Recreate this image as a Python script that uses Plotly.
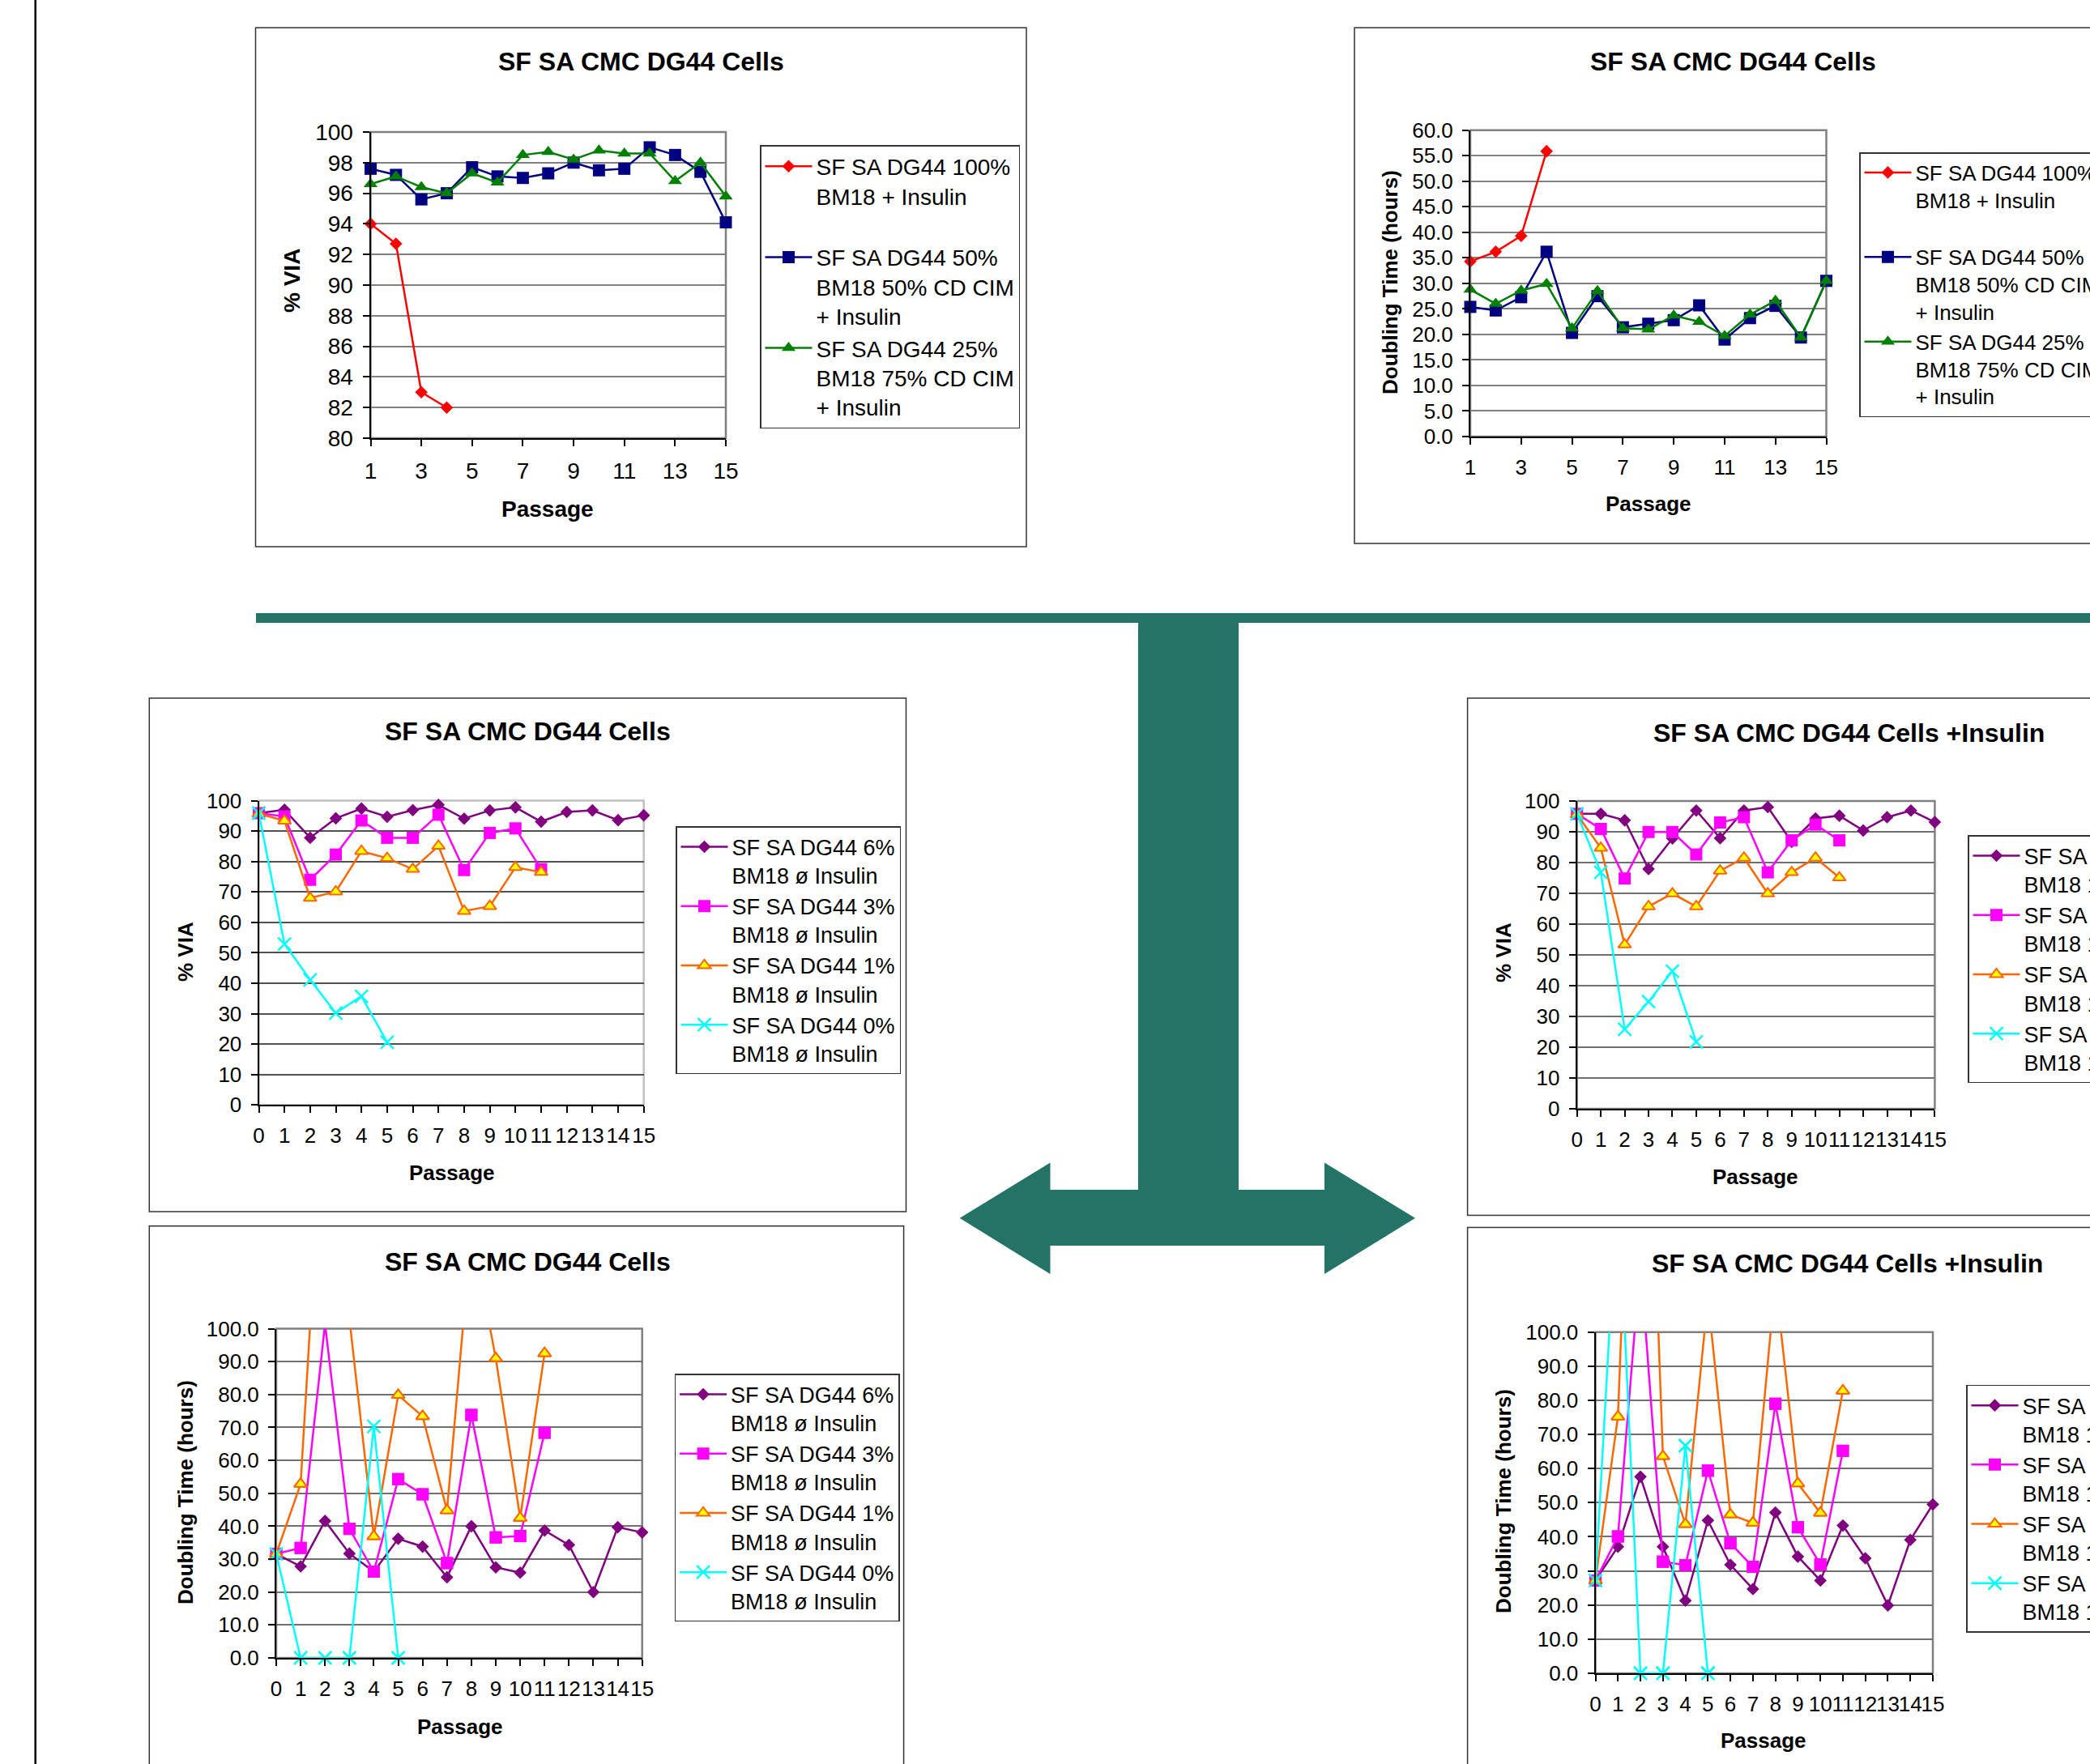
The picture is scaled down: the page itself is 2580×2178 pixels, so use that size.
import plotly.graph_objects as go

W, H = 2580, 2178
FONT = "Arial, Liberation Sans, sans-serif"

# ---------------- data ----------------
# Top row: passages 1-15, BM18 blends with insulin
passage_top = list(range(1, 16))
via_bm18_100 = [94.0, 92.7, 83.0, 82.0]
via_bm18_50 = [97.6, 97.2, 95.6, 96.0, 97.7, 97.1, 97.0, 97.3, 98.0, 97.5, 97.6, 99.0, 98.5, 97.4, 94.1]
via_bm18_25 = [96.6, 97.1, 96.4, 96.0, 97.3, 96.7, 98.5, 98.7, 98.2, 98.8, 98.6, 98.6, 96.8, 98.0, 95.8]

dt_bm18_100 = [34.3, 36.2, 39.3, 55.9]
dt_bm18_50 = [25.4, 24.7, 27.3, 36.2, 20.3, 27.5, 21.4, 22.1, 22.8, 25.7, 19.0, 23.2, 25.6, 19.4, 30.5]
dt_bm18_25 = [28.8, 26.0, 28.6, 29.9, 21.2, 28.5, 21.2, 21.0, 23.7, 22.5, 19.7, 23.9, 26.6, 19.4, 30.5]

# Lower rows: passages 0-15, BM18 percentage series
passage_low = list(range(0, 16))

via_no_ins_6 = [95.9, 97.0, 87.8, 94.2, 97.4, 94.7, 96.9, 98.6, 94.1, 96.8, 97.8, 93.1, 96.3, 96.8, 93.6, 95.2]
via_no_ins_3 = [95.9, 94.8, 74.0, 82.3, 93.5, 87.8, 87.8, 95.4, 77.2, 89.4, 90.9, 77.5]
via_no_ins_1 = [95.7, 93.4, 68.0, 70.1, 83.4, 81.1, 77.5, 85.1, 63.7, 65.3, 78.1, 76.5]
via_no_ins_0 = [95.9, 52.9, 41.1, 30.2, 35.7, 20.6]

via_ins_6 = [95.8, 95.8, 93.7, 77.9, 87.8, 96.9, 87.9, 96.9, 98.0, 86.7, 94.3, 95.2, 90.4, 94.7, 96.9, 93.1]
via_ins_3 = [95.8, 90.9, 74.8, 89.9, 89.9, 82.6, 93.0, 94.7, 76.8, 87.2, 92.3, 87.2]
via_ins_1 = [95.6, 84.7, 53.3, 65.7, 69.9, 65.7, 77.3, 81.5, 69.9, 76.8, 81.5, 75.1]
via_ins_0 = [95.8, 76.8, 25.8, 34.8, 44.7, 21.7]

dt_no_ins_6 = [31.6, 27.8, 41.6, 31.7, 26.2, 36.2, 33.8, 24.5, 40.0, 27.5, 25.9, 38.7, 34.3, 20.0, 39.7, 38.1]
dt_no_ins_3 = [31.6, 33.4, 101.4, 39.2, 26.2, 54.3, 49.7, 28.8, 73.8, 36.6, 37.0, 68.4]
dt_no_ins_1 = [31.6, 52.8, 177.0, 103.0, 36.9, 79.8, 73.4, 44.8, 130.0, 91.0, 42.5, 92.5]
dt_no_ins_0 = [31.6, 0.0, 0.0, 0.0, 70.3, 0.0]

dt_ins_6 = [27.2, 37.1, 57.6, 37.1, 21.3, 44.8, 31.8, 24.7, 47.1, 34.2, 27.2, 43.3, 33.7, 19.9, 39.1, 49.5]
dt_ins_3 = [27.2, 40.1, 121.0, 32.7, 31.7, 59.4, 38.1, 31.2, 79.0, 42.8, 31.9, 65.2]
dt_ins_1 = [27.2, 75.2, 245.0, 63.6, 43.7, 110.0, 46.5, 44.1, 115.0, 55.6, 47.0, 82.8]
dt_ins_0 = [27.2, 145.0, 0.0, 0.0, 66.7, 0.0]

# legend labels
names_top = [
    "SF SA DG44 100%<br>BM18 + Insulin<br>\u00a0",
    "SF SA DG44 50%<br>BM18 50% CD CIM<br>+ Insulin",
    "SF SA DG44 25%<br>BM18 75% CD CIM<br>+ Insulin",
]
names_no_ins = [
    "SF SA DG44 6%<br>BM18 ø Insulin",
    "SF SA DG44 3%<br>BM18 ø Insulin",
    "SF SA DG44 1%<br>BM18 ø Insulin",
    "SF SA DG44 0%<br>BM18 ø Insulin",
]
names_ins = [
    "SF SA DG44 6%<br>BM18 1x Insulin",
    "SF SA DG44 3%<br>BM18 1x Insulin",
    "SF SA DG44 1%<br>BM18 1x Insulin",
    "SF SA DG44 0%<br>BM18 1x Insulin",
]

# ---------------- styles ----------------
STYLE_TOP = [
    dict(line=dict(color="#FF0000", width=2.5),
         marker=dict(symbol="diamond", size=12, color="#FF0000")),
    dict(line=dict(color="#000080", width=2.5),
         marker=dict(symbol="square", size=15, color="#000080")),
    dict(line=dict(color="#008000", width=2.5),
         marker=dict(symbol="triangle-up", size=15, color="#008000")),
]
STYLE_LOW = [
    dict(line=dict(color="#800080", width=2.5),
         marker=dict(symbol="diamond", size=12, color="#800080")),
    dict(line=dict(color="#FF00FF", width=2.5),
         marker=dict(symbol="square", size=15, color="#FF00FF")),
    dict(line=dict(color="#FF6600", width=2.5),
         marker=dict(symbol="triangle-up", size=14, color="#FFFF00",
                     line=dict(color="#FF6600", width=2))),
    dict(line=dict(color="#00FFFF", width=2.5),
         marker=dict(symbol="x-thin", size=16, color="#00FFFF",
                     line=dict(color="#00FFFF", width=2.5))),
]


def fx(px):
    return px / W


def fy(py):
    return 1 - py / H


# panel layout: plot rect (L, R, T, B), outer frame, legend anchor, text spots
PANELS = [
    dict(plot=(457.5, 896, 163, 541), frame=(315.5, 1267, 34.3, 675),
         legend=(938, 179), lfs=28, title="SF SA CMC DG44 Cells", title_xy=(791, 76),
         ytitle="% VIA", ytitle_xy=(360, 347), xtitle_xy=(676, 628.5),
         xrange=[1, 15], xticks=list(range(1, 16, 2)), yrange=[80, 100], dtick=2,
         yfmt="d", fs=28, grid="#808080", border="#808080"),
    dict(plot=(1815, 2254.5, 160.8, 539), frame=(1672, 2605, 34.3, 671),
         legend=(2295, 188), lfs=26, title="SF SA CMC DG44 Cells", title_xy=(2139, 76),
         ytitle="Doubling Time (hours)", ytitle_xy=(1716, 349), xtitle_xy=(2035, 622),
         xrange=[1, 15], xticks=list(range(1, 16, 2)), yrange=[0, 60], dtick=5,
         yfmt=".1f", fs=26, grid="#808080", border="#808080"),
    dict(plot=(319.5, 794.7, 988.6, 1364.2), frame=(184.3, 1118.5, 862, 1496),
         legend=(834, 1020), lfs=27, title="SF SA CMC DG44 Cells", title_xy=(651, 903),
         ytitle="% VIA", ytitle_xy=(229, 1175), xtitle_xy=(558, 1448),
         xrange=[0, 15], xticks=list(range(0, 16)), yrange=[0, 100], dtick=10,
         yfmt="d", fs=26, grid="#505050", border="#C0C0C0"),
    dict(plot=(1946.7, 2388.4, 988.9, 1368.9), frame=(1811.6, 2605, 862, 1500.6),
         legend=(2429, 1031), lfs=27, title="SF SA CMC DG44 Cells +Insulin", title_xy=(2282, 905),
         ytitle="% VIA", ytitle_xy=(1856, 1176), xtitle_xy=(2167, 1453),
         xrange=[0, 15], xticks=list(range(0, 16)), yrange=[0, 100], dtick=10,
         yfmt="d", fs=26, grid="#707070", border="#808080"),
    dict(plot=(341, 792.7, 1640.5, 2047), frame=(184.3, 1115.6, 1513.8, 2200),
         legend=(832.6, 1696), lfs=27, title="SF SA CMC DG44 Cells", title_xy=(651, 1558),
         ytitle="Doubling Time (hours)", ytitle_xy=(229, 1843), xtitle_xy=(568, 2132),
         xrange=[0, 15], xticks=list(range(0, 16)), yrange=[0, 100], dtick=10,
         yfmt=".1f", fs=26, grid="#707070", border="#808080"),
    dict(plot=(1969.5, 2386, 1644.7, 2066), frame=(1811.6, 2605, 1515.4, 2200),
         legend=(2427, 1709.6), lfs=27, title="SF SA CMC DG44 Cells +Insulin", title_xy=(2280, 1560),
         ytitle="Doubling Time (hours)", ytitle_xy=(1856, 1854), xtitle_xy=(2177, 2149),
         xrange=[0, 15], xticks=list(range(0, 16)), yrange=[0, 100], dtick=10,
         yfmt=".1f", fs=26, grid="#707070", border="#808080"),
]

SERIES = [
    (passage_top, [via_bm18_100, via_bm18_50, via_bm18_25], names_top, STYLE_TOP),
    (passage_top, [dt_bm18_100, dt_bm18_50, dt_bm18_25], names_top, STYLE_TOP),
    (passage_low, [via_no_ins_6, via_no_ins_3, via_no_ins_1, via_no_ins_0], names_no_ins, STYLE_LOW),
    (passage_low, [via_ins_6, via_ins_3, via_ins_1, via_ins_0], names_ins, STYLE_LOW),
    (passage_low, [dt_no_ins_6, dt_no_ins_3, dt_no_ins_1, dt_no_ins_0], names_no_ins, STYLE_LOW),
    (passage_low, [dt_ins_6, dt_ins_3, dt_ins_1, dt_ins_0], names_ins, STYLE_LOW),
]

fig = go.Figure()
layout = dict(
    width=W, height=H,
    margin=dict(l=0, r=0, t=0, b=0, autoexpand=False),
    paper_bgcolor="white", plot_bgcolor="white",
    font=dict(family=FONT, color="black"),
    hovermode=False,
    showlegend=True,
)
shapes = []
annotations = []

for i, (panel, (xs, ys_list, names, styles)) in enumerate(zip(PANELS, SERIES), start=1):
    sfx = "" if i == 1 else str(i)
    xa, ya = "x" + sfx, "y" + sfx
    leg = "legend" + sfx
    L, R, T, B = panel["plot"]
    fs = panel["fs"]
    ylo, yhi = panel["yrange"]

    for ys, name, st in zip(ys_list, names, styles):
        in_range = all(ylo <= v <= yhi for v in ys)
        # lines are clipped to the plot area; markers that sit inside the
        # value range may overhang the frame edges
        fig.add_trace(go.Scatter(
            x=xs[:len(ys)], y=ys, name=name, mode="lines+markers",
            line=st["line"], marker=st["marker"], xaxis=xa, yaxis=ya,
            legend=leg, cliponaxis=not in_range,
        ))
        if not in_range:
            shown = [v if ylo <= v <= yhi else None for v in ys]
            fig.add_trace(go.Scatter(
                x=xs[:len(ys)], y=shown, mode="markers", marker=st["marker"],
                xaxis=xa, yaxis=ya, showlegend=False, cliponaxis=False,
            ))

    layout["xaxis" + sfx] = dict(
        domain=[fx(L), fx(R)], anchor=ya, range=panel["xrange"],
        tickmode="array", tickvals=panel["xticks"], ticktext=[str(v) for v in panel["xticks"]],
        ticks="outside", ticklen=8, tickwidth=2, tickcolor="black",
        showline=True, linecolor="black", linewidth=2, showgrid=False, zeroline=False,
        tickangle=0, tickfont=dict(size=fs, family=FONT, color="black"),
        ticklabelstandoff=6, fixedrange=True,
    )
    layout["yaxis" + sfx] = dict(
        domain=[fy(B), fy(T)], anchor=xa, range=panel["yrange"],
        tick0=ylo, dtick=panel["dtick"], tickformat=panel["yfmt"],
        ticks="outside", ticklen=8, tickwidth=2, tickcolor="black",
        showline=True, linecolor="black", linewidth=2,
        showgrid=True, gridcolor=panel["grid"], gridwidth=1.5, zeroline=False,
        tickfont=dict(size=fs, family=FONT, color="black"),
        ticklabelstandoff=6, fixedrange=True,
    )
    layout[leg] = dict(
        x=fx(panel["legend"][0]), y=fy(panel["legend"][1]),
        xanchor="left", yanchor="top", xref="paper", yref="paper",
        bgcolor="white", bordercolor="#333333", borderwidth=1.5,
        font=dict(size=panel["lfs"], family=FONT, color="black"),
        valign="top", tracegroupgap=0, itemwidth=58,
    )

    # gray plot-area border
    shapes.append(dict(type="rect", xref=xa + " domain", yref=ya + " domain",
                       x0=0, x1=1, y0=0, y1=1, layer="below",
                       line=dict(color=panel["border"], width=2.5)))
    # chart frame
    fl, fr, ft, fb = panel["frame"]
    shapes.append(dict(type="rect", xref="paper", yref="paper",
                       x0=fx(fl), x1=fx(fr), y0=fy(fb), y1=fy(ft),
                       line=dict(color="#333333", width=1.5)))

    annotations.append(dict(text="<b>%s</b>" % panel["title"], xref="paper", yref="paper",
                            x=fx(panel["title_xy"][0]), y=fy(panel["title_xy"][1]),
                            xanchor="center", yanchor="middle", showarrow=False,
                            font=dict(size=32, family=FONT, color="black")))
    annotations.append(dict(text="<b>%s</b>" % panel["ytitle"], xref="paper", yref="paper",
                            x=fx(panel["ytitle_xy"][0]), y=fy(panel["ytitle_xy"][1]),
                            xanchor="center", yanchor="middle", showarrow=False, textangle=-90,
                            font=dict(size=fs, family=FONT, color="black")))
    annotations.append(dict(text="<b>Passage</b>", xref="paper", yref="paper",
                            x=fx(panel["xtitle_xy"][0]), y=fy(panel["xtitle_xy"][1]),
                            xanchor="center", yanchor="middle", showarrow=False,
                            font=dict(size=fs, family=FONT, color="black")))

# left margin rule
shapes.append(dict(type="line", xref="paper", yref="paper",
                   x0=fx(43.7), x1=fx(43.7), y0=0, y1=1,
                   line=dict(color="black", width=2.5)))

# green connector: horizontal bar, stem, and double-headed arrow
GREEN = "#237467"
shapes.append(dict(type="rect", xref="paper", yref="paper",
                   x0=fx(316), x1=fx(2600), y0=fy(769), y1=fy(757),
                   line=dict(width=0), fillcolor=GREEN))
shapes.append(dict(type="rect", xref="paper", yref="paper",
                   x0=fx(1405), x1=fx(1529), y0=fy(1538), y1=fy(760),
                   line=dict(width=0), fillcolor=GREEN))
arrow_pts = [(1184.7, 1504), (1296.5, 1435.5), (1296.5, 1469), (1635, 1469),
             (1635, 1435.5), (1747, 1504), (1635, 1573), (1635, 1538),
             (1296.5, 1538), (1296.5, 1573)]
path = "M " + " L ".join("%.6f,%.6f" % (fx(px), fy(py)) for px, py in arrow_pts) + " Z"
shapes.append(dict(type="path", xref="paper", yref="paper", path=path,
                   line=dict(width=0), fillcolor=GREEN))

layout["shapes"] = shapes
layout["annotations"] = annotations
fig.update_layout(**layout)

fig.write_html("out.html")
